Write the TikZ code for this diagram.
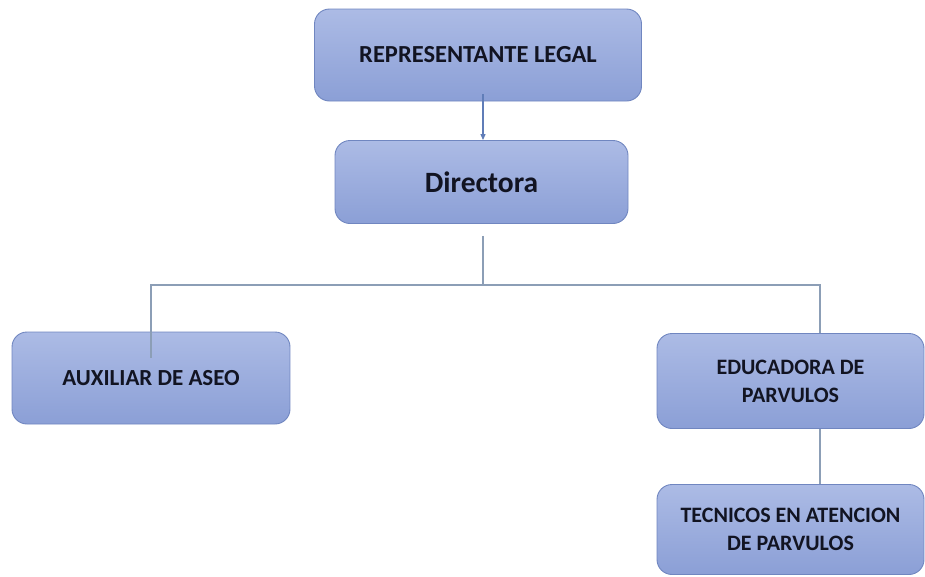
\documentclass[tikz,border=0pt]{standalone}
\usepackage{fontspec}
\setmainfont{Carlito}
\usetikzlibrary{arrows.meta,calc}
\definecolor{boxtop}{RGB}{172,187,229}
\definecolor{boxbot}{RGB}{139,159,214}
\definecolor{boxline}{RGB}{112,134,192}
\definecolor{connline}{RGB}{140,158,182}
\definecolor{arrowc}{RGB}{96,125,184}
\definecolor{txt}{RGB}{18,20,34}
\tikzset{
  orgbox/.style={draw=boxline, line width=0.9pt, rounded corners=15pt,
    top color=boxtop, bottom color=boxbot, text=txt, align=center,
    font=\bfseries\fontsize{22}{28}\selectfont, inner sep=0pt},
  conn/.style={draw=connline, line width=1.2pt},
}
\begin{document}
\begin{tikzpicture}[x=1pt,y=-1pt]
\useasboundingbox (0,0) rectangle (925,576);
\begin{scope}
\clip (0,0) rectangle (925,576);
\node[orgbox, minimum width=327pt, minimum height=92pt, font=\bfseries\fontsize{24.5}{28}\selectfont] (rep) at (478,55) {REPRESENTANTE LEGAL};
\node[orgbox, minimum width=293pt, minimum height=83pt, font=\bfseries\fontsize{29.5}{34}\selectfont] (dir) at (481.5,182) {Directora};
\node[orgbox, minimum width=278pt, minimum height=92pt, font=\bfseries\fontsize{23}{28}\selectfont] (aux) at (151,378) {AUXILIAR DE ASEO};
\node[orgbox, minimum width=267pt, minimum height=95pt] (edu) at (790.5,381) {EDUCADORA DE\\PARVULOS};
\node[orgbox, minimum width=267pt, minimum height=90pt] (tec) at (790.5,529.5) {TECNICOS EN ATENCION\\DE PARVULOS};
\coordinate (bus) at (483,285);
\coordinate (auxin) at (151,358);
\draw[conn, draw=arrowc, -{Triangle[length=6pt,width=5pt]}] (rep.south -| bus) ++(0,-7) -- (dir.north -| bus);
\draw[conn] ($(dir.south -| bus)+(0,12)$) -- (bus);
\draw[conn] (bus) -- (bus -| auxin) -- (auxin);
\draw[conn] (bus) -- (bus -| 820,0) -- (edu.north -| 820,0);
\draw[conn] (edu.south -| 820,0) -- (tec.north -| 820,0);
\end{scope}
\end{tikzpicture}
\end{document}
